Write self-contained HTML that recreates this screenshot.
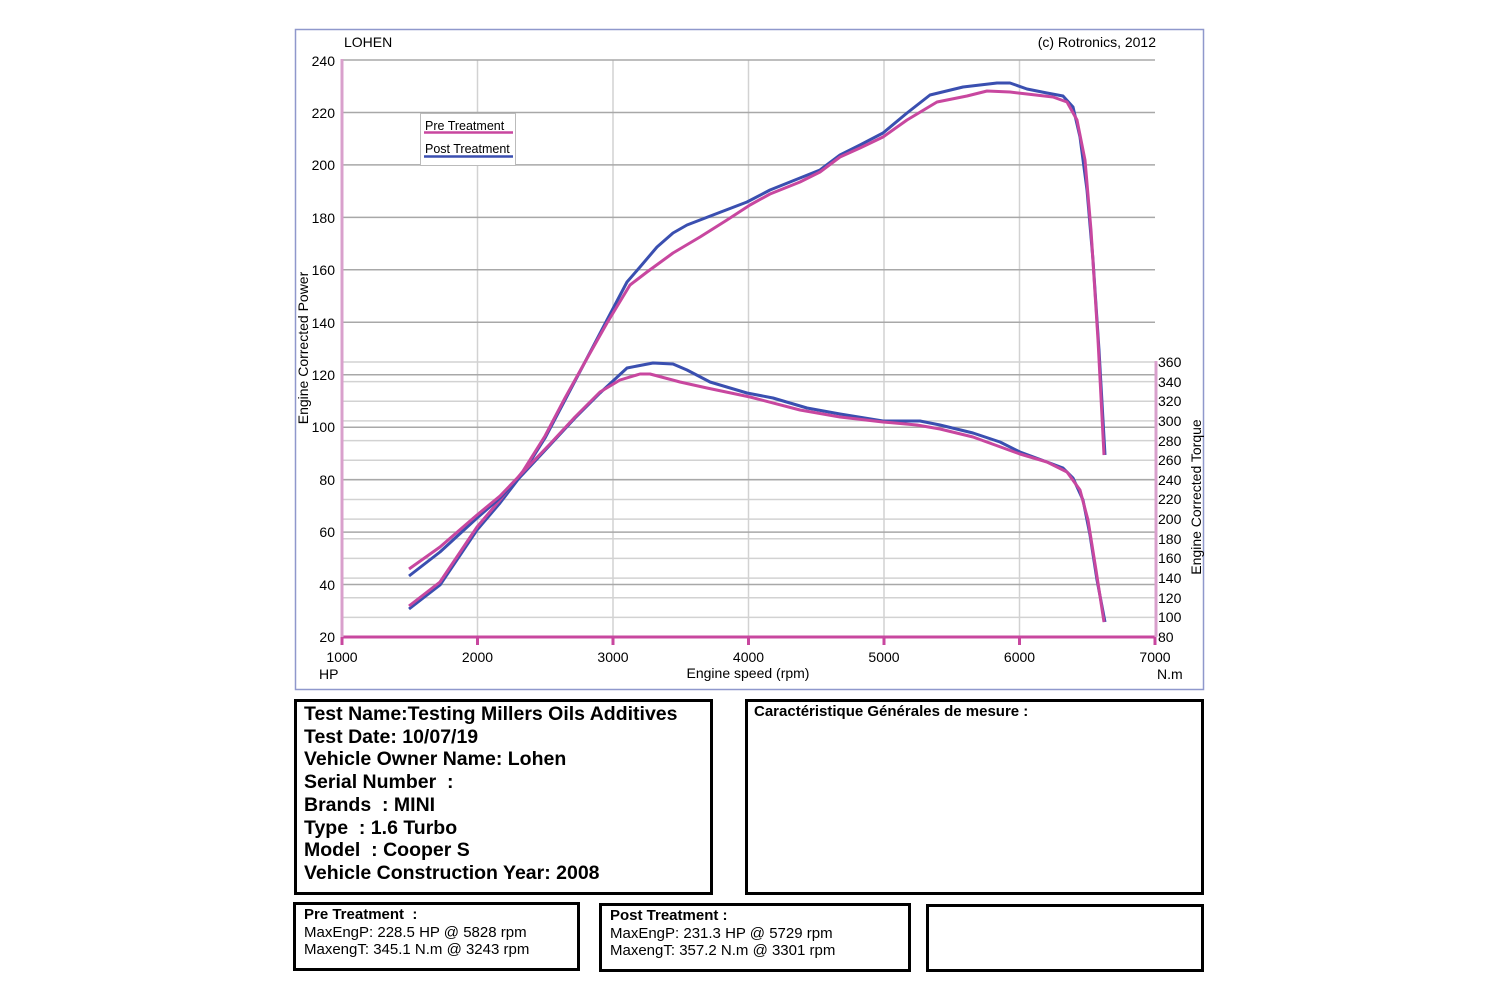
<!DOCTYPE html>
<html><head><meta charset="utf-8"><style>
body{margin:0;background:#fff;width:1500px;height:1000px;overflow:hidden;font-family:"Liberation Sans",Arial,sans-serif}
.b{position:absolute;border:3px solid #000;box-sizing:border-box}
</style></head><body>
<svg width="1500" height="1000" style="position:absolute;left:0;top:0" font-family="Liberation Sans, Arial, sans-serif">
<rect x="295.5" y="29.5" width="908" height="660" fill="none" stroke="#8f98cc" stroke-width="1.5"/>
<g stroke="#d2d2d2" stroke-width="1.5">
<line x1="342" y1="381.6" x2="1155" y2="381.6"/><line x1="342" y1="401.3" x2="1155" y2="401.3"/><line x1="342" y1="420.9" x2="1155" y2="420.9"/><line x1="342" y1="440.6" x2="1155" y2="440.6"/><line x1="342" y1="460.2" x2="1155" y2="460.2"/><line x1="342" y1="479.9" x2="1155" y2="479.9"/><line x1="342" y1="499.5" x2="1155" y2="499.5"/><line x1="342" y1="519.1" x2="1155" y2="519.1"/><line x1="342" y1="538.8" x2="1155" y2="538.8"/><line x1="342" y1="558.4" x2="1155" y2="558.4"/><line x1="342" y1="578.1" x2="1155" y2="578.1"/><line x1="342" y1="597.7" x2="1155" y2="597.7"/><line x1="342" y1="617.4" x2="1155" y2="617.4"/><line x1="342" y1="362" x2="1155" y2="362"/>
<line x1="477.5" y1="60" x2="477.5" y2="637"/><line x1="613" y1="60" x2="613" y2="637"/><line x1="748.5" y1="60" x2="748.5" y2="637"/><line x1="884" y1="60" x2="884" y2="637"/><line x1="1019.5" y1="60" x2="1019.5" y2="637"/>
</g>
<g stroke="#a8a8a8" stroke-width="1.5">
<line x1="342" y1="60" x2="1155" y2="60"/><line x1="342" y1="112.5" x2="1155" y2="112.5"/><line x1="342" y1="164.9" x2="1155" y2="164.9"/><line x1="342" y1="217.4" x2="1155" y2="217.4"/><line x1="342" y1="269.8" x2="1155" y2="269.8"/><line x1="342" y1="322.3" x2="1155" y2="322.3"/><line x1="342" y1="374.7" x2="1155" y2="374.7"/><line x1="342" y1="427.2" x2="1155" y2="427.2"/><line x1="342" y1="479.6" x2="1155" y2="479.6"/><line x1="342" y1="532.1" x2="1155" y2="532.1"/><line x1="342" y1="584.5" x2="1155" y2="584.5"/>
</g>
<g stroke="#c8479f" stroke-width="3">
<line x1="342" y1="637" x2="1156" y2="637"/>
<line x1="342" y1="59" x2="342" y2="637" stroke="#d9a0cc"/>
<line x1="1156" y1="361" x2="1156" y2="637" stroke="#d9a0cc"/>
<line x1="477.5" y1="637" x2="477.5" y2="645"/><line x1="613" y1="637" x2="613" y2="645"/><line x1="748.5" y1="637" x2="748.5" y2="645"/><line x1="884" y1="637" x2="884" y2="645"/><line x1="1019.5" y1="637" x2="1019.5" y2="645"/><line x1="1155" y1="637" x2="1155" y2="645"/><line x1="342" y1="637" x2="342" y2="645"/>
</g>
<g font-size="14" fill="#000" text-anchor="end">
<text x="335" y="66">240</text><text x="335" y="118">220</text><text x="335" y="170">200</text><text x="335" y="223">180</text><text x="335" y="275">160</text><text x="335" y="328">140</text><text x="335" y="380">120</text><text x="335" y="432">100</text><text x="335" y="485">80</text><text x="335" y="537">60</text><text x="335" y="590">40</text><text x="335" y="642">20</text>
</g>
<g font-size="14" fill="#000">
<text x="1158" y="367">360</text><text x="1158" y="387">340</text><text x="1158" y="406">320</text><text x="1158" y="426">300</text><text x="1158" y="446">280</text><text x="1158" y="465">260</text><text x="1158" y="485">240</text><text x="1158" y="504">220</text><text x="1158" y="524">200</text><text x="1158" y="544">180</text><text x="1158" y="563">160</text><text x="1158" y="583">140</text><text x="1158" y="603">120</text><text x="1158" y="622">100</text><text x="1158" y="642">80</text>
</g>
<g font-size="14" fill="#000" text-anchor="middle">
<text x="342" y="662">1000</text><text x="477.5" y="662">2000</text><text x="613" y="662">3000</text><text x="748.5" y="662">4000</text><text x="884" y="662">5000</text><text x="1019.5" y="662">6000</text><text x="1155" y="662">7000</text>
<text x="748" y="678">Engine speed (rpm)</text>
</g>
<text x="319" y="679" font-size="14">HP</text>
<text x="1157" y="679" font-size="14">N.m</text>
<text x="344" y="47" font-size="14">LOHEN</text>
<text x="1156" y="47" font-size="14" text-anchor="end">(c) Rotronics, 2012</text>
<text transform="translate(308,348) rotate(-90)" font-size="14" text-anchor="middle">Engine Corrected Power</text>
<text transform="translate(1201,497) rotate(-90)" font-size="14" text-anchor="middle">Engine Corrected Torque</text>
<rect x="420.5" y="113.5" width="95" height="52" fill="#fff" stroke="#bbb"/>
<text x="425" y="130" font-size="12.5">Pre Treatment</text>
<line x1="424" y1="132.5" x2="513" y2="132.5" stroke="#c8479f" stroke-width="2.5"/>
<text x="425" y="153" font-size="12.5">Post Treatment</text>
<line x1="424" y1="156.5" x2="513" y2="156.5" stroke="#3a4fb0" stroke-width="2.5"/>
<g fill="none" stroke-width="3" stroke-linejoin="round">
<polyline stroke="#3a4fb0" points="409,609 440,585 477,530 500,503 523,473 545,438 565,400 585,362 607,320 627,282 640,267 657,247 673,233 687,225 713,215 747,202 770,190 800,178 820,170 840,155 860,145 883,133 907,113 930,95 963,87 997,83 1010,83 1027,89 1047,93 1063,96 1073,107 1080,137 1087,190 1093,260 1099,350 1105,455"/>
<polyline stroke="#c8479f" points="409,606 440,582 477,527 500,500 523,471 545,436 565,398 585,362 607,323 630,285 647,272 673,253 700,237 727,220 750,205 770,194 800,182 820,172 840,157 860,148 883,137 907,120 937,102 967,96 987,91 1010,92 1027,94 1053,97 1067,102 1077,120 1085,160 1091,230 1098,340 1104,455"/>
<polyline stroke="#3a4fb0" points="409,576 440,552 477,518 500,498 523,474 550,445 575,418 600,393 627,368 653,363 673,364 687,370 710,382 747,393 773,398 807,408 840,414 883,421 920,421 940,425 973,433 1000,442 1020,452 1047,462 1063,468 1073,478 1083,500 1090,535 1097,580 1105,622"/>
<polyline stroke="#c8479f" points="409,569 440,547 477,515 500,496 523,472 550,444 575,417 600,392 620,380 640,374 650,374 680,382 707,388 750,397 800,410 840,417 883,422 917,425 940,429 973,437 1020,454 1047,462 1067,472 1080,490 1088,520 1096,570 1104,622"/>
</g>
</svg>
<div class="b" style="left:294px;top:699px;width:419px;height:196px;padding:1px 0 0 7px;font-weight:bold;font-size:19.5px;line-height:22.7px">Test Name:Testing Millers Oils Additives<br>Test Date: 10/07/19<br>Vehicle Owner Name: Lohen<br>Serial Number &nbsp;:<br>Brands &nbsp;: MINI<br>Type &nbsp;: 1.6 Turbo<br>Model &nbsp;: Cooper S<br>Vehicle Construction Year: 2008</div>
<div class="b" style="left:745px;top:699px;width:459px;height:196px;padding:1px 0 0 6px;font-weight:bold;font-size:15px">Caractéristique Générales de mesure :</div>
<div class="b" style="left:293px;top:902px;width:287px;height:69px;padding:1px 0 0 8px;font-size:15px;line-height:17.5px"><b>Pre Treatment &nbsp;:</b><br>MaxEngP: 228.5 HP @ 5828 rpm<br>MaxengT: 345.1 N.m @ 3243 rpm</div>
<div class="b" style="left:599px;top:903px;width:312px;height:69px;padding:1px 0 0 8px;font-size:15px;line-height:17.5px"><b>Post Treatment :</b><br>MaxEngP: 231.3 HP @ 5729 rpm<br>MaxengT: 357.2 N.m @ 3301 rpm</div>
<div class="b" style="left:926px;top:904px;width:278px;height:68px"></div>
</body></html>
